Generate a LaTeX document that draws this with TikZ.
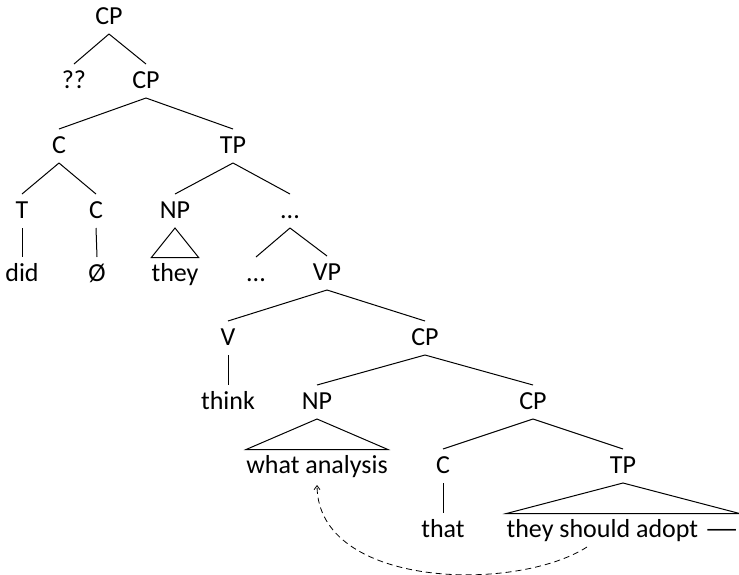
\documentclass[tikz,border=0pt]{standalone}
\usepackage{fontspec}
\setmainfont{Carlito}
\usetikzlibrary{arrows.meta}
\begin{document}
\begin{tikzpicture}[x=1pt,y=-1pt,
  lbl/.style={anchor=base, inner sep=0pt, font=\fontsize{26}{30}\selectfont},
  edge/.style={line width=1pt, black},
  mv/.style={line width=0.8pt, dash pattern=on 6pt off 4pt, -{Straight Barb[length=4pt,width=6pt]}}]
\useasboundingbox (0,0) rectangle (739,574);
\node[lbl] (cp0) at (109,24) {CP};
\node[lbl] (qq) at (74,88) {??};
\node[lbl] (cp1) at (146,88) {CP};
\node[lbl] (c1) at (59,153) {C};
\node[lbl] (tp1) at (233,153) {TP};
\node[lbl] (t) at (22,218) {T};
\node[lbl] (c2) at (96,218) {C};
\node[lbl] (np1) at (175,218) {NP};
\node[lbl] (dd1) at (290,218) {...};
\node[lbl] (did) at (22,281) {did};
\node[lbl] (null) at (97,281) {Ø};
\node[lbl] (they) at (175,281) {they};
\node[lbl] (dd2) at (256,281) {...};
\node[lbl] (vp) at (327,280) {VP};
\node[lbl] (v) at (228,345) {V};
\node[lbl] (cp2) at (425,345) {CP};
\node[lbl] (think) at (228,409) {think};
\node[lbl] (np2) at (317,409) {NP};
\node[lbl] (cp3) at (533,409) {CP};
\node[lbl] (wa) at (317,473) {what analysis};
\node[lbl] (c3) at (443,473) {C};
\node[lbl] (tp2) at (623,473) {TP};
\node[lbl] (that) at (443,537) {that};
\node[lbl] (tsa) at (623,537) {they should adopt \scalebox{1.5}[1]{—}};
\foreach \p/\c in {cp0/qq, cp0/cp1, cp1/c1, cp1/tp1, c1/t, c1/c2, tp1/np1, tp1/dd1,
  t/did, c2/null, dd1/dd2, dd1/vp, vp/v, vp/cp2, v/think, cp2/np2, cp2/cp3,
  cp3/c3, cp3/tp2, c3/that}
  \draw[edge] ([yshift=-10pt]\p.base) -- ([yshift=24pt]\c.base);
\foreach \p/\c in {np1/they, np2/wa, tp2/tsa}
  \draw[edge] ([yshift=-10pt]\p.base) -- ([yshift=23.5pt]\c.base west) -- ([yshift=23.5pt]\c.base east) -- cycle;
\draw[mv] ([xshift=-36pt,yshift=-10pt]tsa.base) .. controls (515,593) and (318,588) .. ([yshift=-12pt]wa.base);
\end{tikzpicture}
\end{document}
